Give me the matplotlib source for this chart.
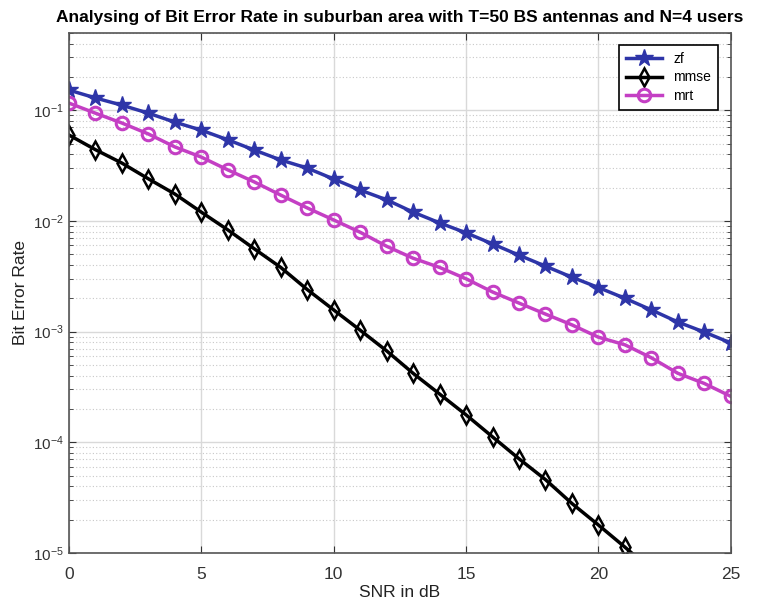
import matplotlib
matplotlib.use("Agg")
import matplotlib.pyplot as plt
import numpy as np

snr_db = list(range(0, 26))

ber_zf = [0.152, 0.129, 0.111, 0.094, 0.078, 0.066, 0.054, 0.0437, 0.0355, 0.030,
          0.0239, 0.019, 0.0155, 0.012, 0.0096, 0.0078, 0.0062, 0.0049, 0.0039, 0.0031,
          0.0025, 0.0020, 0.00157, 0.00122, 0.00099, 0.00079]
ber_mmse = [0.0597, 0.0440, 0.0333, 0.024, 0.0175, 0.012, 0.0083, 0.0056, 0.0038, 0.0024,
            0.00157, 0.00103, 0.00067, 0.00042, 0.000273, 0.000177, 0.000112, 7.1e-5, 4.6e-5, 2.8e-5,
            1.79e-5, 1.13e-5, 7.0e-6, 4.4e-6, 2.7e-6, 1.7e-6]
ber_mrt = [0.116, 0.094, 0.0766, 0.061, 0.0466, 0.0377, 0.0289, 0.0225, 0.0171, 0.0131,
           0.0102, 0.0079, 0.0059, 0.0046, 0.0038, 0.0030, 0.00228, 0.00181, 0.00144, 0.00115,
           0.00089, 0.00076, 0.00058, 0.00042, 0.00034, 0.00026]

plt.rcParams['font.family'] = ['Liberation Sans', 'DejaVu Sans']
plt.rcParams['mathtext.fontset'] = 'custom'
plt.rcParams['mathtext.rm'] = 'Liberation Sans'

fig = plt.figure(figsize=(7.66, 6.08), dpi=100)
ax = fig.add_axes([0.090, 0.0905, 0.864, 0.8555])

ax.plot(snr_db, ber_zf, color='#2E35A8', lw=2.5, marker='*', ms=13, label='zf')
ax.plot(snr_db, ber_mmse, color='black', lw=2.5, marker='d', ms=9,
        mfc='none', mew=1.8, label='mmse')
ax.plot(snr_db, ber_mrt, color='#C43FC4', lw=2.5, marker='o', ms=9,
        mfc='none', mew=2.2, label='mrt')

ax.set_yscale('log')
ax.set_xlim(0, 25)
ax.set_ylim(1e-5, 0.5)
ax.set_xticks([0, 5, 10, 15, 20, 25])

ax.grid(True, which='major', color='#d9d9d9', lw=1.0, ls='-')
ax.grid(True, which='minor', axis='y', color='#c8c8c8', lw=0.8, ls=(0, (1, 2)))
ax.tick_params(which='both', direction='in', top=True, right=True,
               labelsize=11, colors='#333333')
ax.tick_params(axis='x', labelsize=12.5, pad=10)
ax.tick_params(which='major', length=5)
ax.tick_params(which='minor', length=3)
for s in ax.spines.values():
    s.set_color('#555555')
    s.set_linewidth(1.2)

ax.set_title('Analysing of Bit Error Rate in suburban area with T=50 BS antennas and N=4 users',
             fontsize=12.5, fontweight='bold', pad=8)
ax.set_xlabel('SNR in dB', fontsize=12.5, color='#222222', labelpad=2)
ax.set_ylabel('Bit Error Rate', fontsize=12.5, color='#222222')

leg = ax.legend(loc='upper right', fontsize=10, fancybox=False, framealpha=1,
                edgecolor='black', handlelength=2.6, borderaxespad=0.9,
                labelspacing=0.3, borderpad=0.5)
leg.get_frame().set_linewidth(1.2)

plt.savefig('out.png', dpi=100)
